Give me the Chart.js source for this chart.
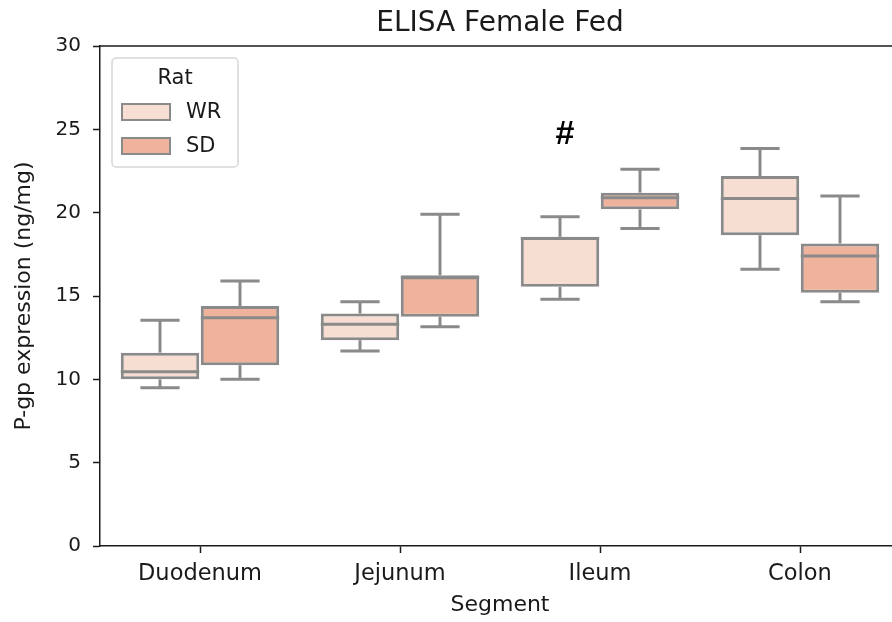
<!DOCTYPE html>
<html>
<head>
<meta charset="utf-8">
<title>ELISA Female Fed</title>
<script src="https://cdn.jsdelivr.net/npm/chart.js@4.4.1/dist/chart.umd.min.js"></script>
<style>
  html, body { margin: 0; padding: 0; background: #fff; overflow: hidden; }
  #wrap { position: relative; width: 900px; height: 622px; }
</style>
</head>
<body>
<div id="wrap"><canvas id="boxChart"></canvas></div>
<script>
// Box plot of P-gp expression per gut segment, two rat strains.

const segments = ["Duodenum", "Jejunum", "Ileum", "Colon"];
const groups = ["WR", "SD"];
const yTicks = [0, 5, 10, 15, 20, 25, 30];
const chartTitle = "ELISA Female Fed";

// WR rats: whisker low, Q1, median, Q3, whisker high
const wrMin = [9.5, 11.7, 14.8, 16.6];
const wrQ1 = [10.0, 12.35, 15.55, 18.65];
const wrMedian = [10.45, 13.3, 18.45, 20.85];
const wrQ3 = [11.6, 13.95, 18.55, 22.2];
const wrMax = [13.55, 14.65, 19.75, 23.85];

// SD rats
const sdMin = [10.0, 13.15, 19.05, 14.65];
const sdQ1 = [10.85, 13.75, 20.2, 15.2];
const sdMedian = [13.7, 16.1, 20.9, 17.4];
const sdQ3 = [14.4, 16.25, 21.2, 18.15];
const sdMax = [15.9, 19.9, 22.6, 21.0];

// significance mark (x given as category index)
const markText = "#";
const markX = 1.825;
const markY = 24.8;

const fills = ["#f7ded3", "#eeb29d"];
const edge = "#8a8a8a";
const ink = "#1a1a1a";

const stats = [
  { min: wrMin, q1: wrQ1, med: wrMedian, q3: wrQ3, max: wrMax },
  { min: sdMin, q1: sdQ1, med: sdMedian, q3: sdQ3, max: sdMax },
];

Chart.defaults.font.family = "'DejaVu Sans', sans-serif";
Chart.defaults.color = ink;

function line(ctx, x1, y1, x2, y2) {
  ctx.beginPath();
  ctx.moveTo(x1, y1);
  ctx.lineTo(x2, y2);
  ctx.stroke();
}

// whiskers, medians, frame, title, legend and the # mark
const boxExtras = {
  id: "boxExtras",
  beforeDatasetsDraw(chart) {
    const ctx = chart.ctx;
    const y = chart.scales.y;
    ctx.save();
    ctx.strokeStyle = edge;
    ctx.lineWidth = 3;
    stats.forEach((s, d) => {
      chart.getDatasetMeta(d).data.forEach((bar, i) => {
        const cap = bar.width / 4;
        line(ctx, bar.x, y.getPixelForValue(s.q3[i]), bar.x, y.getPixelForValue(s.max[i]));
        line(ctx, bar.x, y.getPixelForValue(s.q1[i]), bar.x, y.getPixelForValue(s.min[i]));
        line(ctx, bar.x - cap, y.getPixelForValue(s.max[i]), bar.x + cap, y.getPixelForValue(s.max[i]));
        line(ctx, bar.x - cap, y.getPixelForValue(s.min[i]), bar.x + cap, y.getPixelForValue(s.min[i]));
      });
    });
    ctx.restore();
  },
  afterDatasetsDraw(chart) {
    const ctx = chart.ctx;
    const y = chart.scales.y;
    const x = chart.scales.x;
    const area = chart.chartArea;
    ctx.save();

    // medians
    ctx.strokeStyle = edge;
    ctx.lineWidth = 3;
    stats.forEach((s, d) => {
      chart.getDatasetMeta(d).data.forEach((bar, i) => {
        const my = y.getPixelForValue(s.med[i]);
        line(ctx, bar.x - bar.width / 2, my, bar.x + bar.width / 2, my);
      });
    });

    // top and right spines
    ctx.strokeStyle = ink;
    ctx.lineWidth = 1.5;
    line(ctx, area.left, area.top, area.right, area.top);
    line(ctx, area.right, area.top, area.right, area.bottom);

    // title, centred over the plot area like matplotlib does
    ctx.fillStyle = ink;
    ctx.font = "28px 'DejaVu Sans'";
    ctx.textAlign = "center";
    ctx.textBaseline = "middle";
    ctx.fillText(chartTitle, (area.left + area.right) / 2, area.top - 22);

    // legend
    const lx = area.left + 12, ly = area.top + 12, lw = 126, lh = 109;
    ctx.fillStyle = "rgba(255,255,255,0.85)";
    ctx.strokeStyle = "#d6d6d6";
    ctx.lineWidth = 1.5;
    ctx.beginPath();
    ctx.roundRect(lx, ly, lw, lh, 4);
    ctx.fill();
    ctx.stroke();
    ctx.fillStyle = ink;
    ctx.font = "21px 'DejaVu Sans'";
    ctx.fillText("Rat", lx + lw / 2, ly + 21);
    ctx.textAlign = "left";
    groups.forEach((g, k) => {
      const py = ly + 46 + k * 34;
      ctx.fillStyle = fills[k];
      ctx.fillRect(lx + 10, py, 48, 16);
      ctx.strokeStyle = edge;
      ctx.lineWidth = 2;
      ctx.strokeRect(lx + 10, py, 48, 16);
      ctx.fillStyle = ink;
      ctx.fillText(g, lx + 74, py + 9);
    });

    // # mark
    ctx.font = "bold 34px 'Liberation Sans'";
    ctx.textAlign = "center";
    ctx.fillStyle = "#000";
    ctx.fillText(markText, x.getPixelForValue(markX), y.getPixelForValue(markY) + 2);

    ctx.restore();
  },
};

const ctx = document.getElementById("boxChart").getContext("2d");
new Chart(ctx, {
  type: "bar",
  data: {
    labels: segments,
    datasets: groups.map((g, d) => ({
      label: g,
      data: segments.map((_, i) => [stats[d].q1[i], stats[d].q3[i]]),
      backgroundColor: fills[d],
      borderColor: edge,
      borderWidth: 3,
      borderSkipped: false,
      categoryPercentage: 0.8,
      barPercentage: 0.98,
    })),
  },
  options: {
    responsive: true,
    maintainAspectRatio: false,
    animation: false,
    layout: { padding: { top: 46, left: 0, right: 0, bottom: 0 } },
    plugins: {
      legend: { display: false },
      tooltip: { enabled: false },
    },
    scales: {
      x: {
        grid: { drawOnChartArea: false, offset: false, tickLength: 7, tickColor: ink, tickWidth: 1.5 },
        border: { color: ink, width: 1.5 },
        ticks: { font: { size: 22.5 }, color: ink, padding: 8 },
        title: { display: true, text: "Segment", font: { size: 22 }, color: ink, padding: { bottom: 4 } },
        afterFit(scale) { scale.height = 76; },
      },
      y: {
        min: 0,
        max: 30,
        afterBuildTicks(scale) { scale.ticks = yTicks.map(v => ({ value: v })); },
        grid: { drawOnChartArea: false, tickLength: 7, tickColor: ink, tickWidth: 1.5 },
        border: { color: ink, width: 1.5 },
        ticks: { font: { size: 20 }, color: ink, padding: 12 },
        title: { display: true, text: "P-gp expression (ng/mg)", font: { size: 22 }, color: ink, padding: { top: 11 } },
        afterFit(scale) { scale.width = 100; },
      },
    },
  },
  plugins: [boxExtras],
});
</script>
</body>
</html>
